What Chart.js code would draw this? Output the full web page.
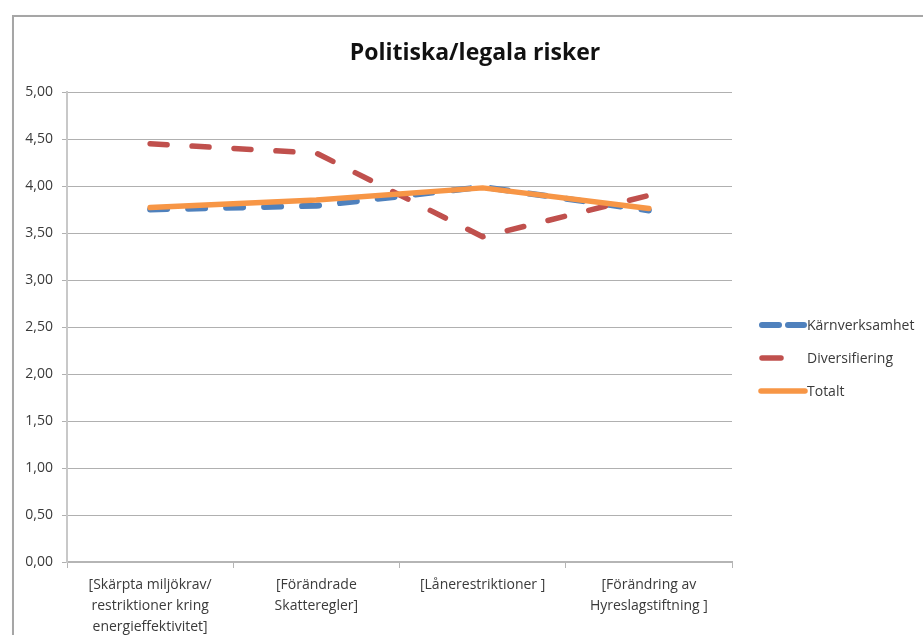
<!DOCTYPE html>
<html>
<head>
<meta charset="utf-8">
<script src="https://cdn.jsdelivr.net/npm/chart.js@4.4.1/dist/chart.umd.min.js"></script>
<style>
  html, body { margin: 0; padding: 0; background: #ffffff; overflow: hidden; }
  #frame {
    position: absolute; left: 12px; top: 15px; width: 1000px; height: 1000px;
    border: 2px solid #a6a6a6; box-shadow: 1px 1px 2px rgba(0,0,0,0.15);
  }
  #wrap { position: absolute; left: 0; top: 0; width: 923px; height: 635px; }
</style>
</head>
<body>
<div id="frame"></div>
<div id="wrap"><canvas id="chart" width="923" height="635"></canvas></div>
<script>
// Categories (multi-line axis labels)
const categories = [
  ['[Skärpta miljökrav/', 'restriktioner kring', 'energieffektivitet]'],
  ['[Förändrade', 'Skatteregler]'],
  ['[Lånerestriktioner ]'],
  ['[Förändring av', 'Hyreslagstiftning ]']
];

// Series values
const karnverksamhet = [3.75, 3.79, 3.99, 3.74];
const diversifiering = [4.45, 4.35, 3.46, 3.90];
const totalt         = [3.77, 3.85, 3.98, 3.76];

const seriesNames = ['Kärnverksamhet', 'Diversifiering', 'Totalt'];
const chartTitle = 'Politiska/legala risker';

const FONT = '"Open Sans", "Liberation Sans", sans-serif';
const TEXT = '#3a3a3a';

// Title drawn centred over the plot + legend block
const titlePlugin = {
  id: 'customTitle',
  afterDraw(chart) {
    const ctx = chart.ctx;
    ctx.save();
    ctx.font = 'bold 23px ' + FONT;
    ctx.fillStyle = '#111';
    ctx.textAlign = 'center';
    ctx.textBaseline = 'middle';
    ctx.fillText(chartTitle, 475, 53);
    ctx.restore();
  }
};

// Legend with the line samples to the right of the plot
const legendPlugin = {
  id: 'sideLegend',
  afterDraw(chart) {
    const ctx = chart.ctx;
    const x0 = 760, rowY = [325, 358, 391];
    ctx.save();
    chart.data.datasets.forEach((ds, i) => {
      const y = rowY[i];
      ctx.strokeStyle = ds.borderColor;
      ctx.lineWidth = ds.borderWidth;
      ctx.lineCap = 'round';
      ctx.beginPath();
      if (i === 0) {
        ctx.moveTo(x0 + 2, y); ctx.lineTo(x0 + 19, y);
        ctx.moveTo(x0 + 28, y); ctx.lineTo(x0 + 44, y);
      } else if (i === 1) {
        ctx.moveTo(x0 + 2, y); ctx.lineTo(x0 + 21, y);
      } else {
        ctx.moveTo(x0 + 1, y); ctx.lineTo(x0 + 45, y);
      }
      ctx.stroke();
      ctx.font = '14px ' + FONT;
      ctx.fillStyle = TEXT;
      ctx.textAlign = 'left';
      ctx.textBaseline = 'middle';
      ctx.fillText(ds.label, 807, y + 1);
    });
    ctx.restore();
  }
};

new Chart(document.getElementById('chart'), {
  type: 'line',
  data: {
    labels: categories,
    datasets: [
      { label: seriesNames[0], data: karnverksamhet, borderColor: '#4F81BD',
        borderWidth: 6, borderDash: [17, 21], borderCapStyle: 'round', order: 3 },
      { label: seriesNames[1], data: diversifiering, borderColor: '#C0504D',
        borderWidth: 5.5, borderDash: [17, 25], borderCapStyle: 'round', order: 2 },
      { label: seriesNames[2], data: totalt, borderColor: '#F79646',
        borderWidth: 5.5, borderCapStyle: 'round', order: 1 }
    ]
  },
  options: {
    responsive: false,
    animation: false,
    events: [],
    layout: { padding: { left: 0, right: 191, top: 92, bottom: 0 } },
    elements: { point: { radius: 0 }, line: { tension: 0, borderJoinStyle: 'round' } },
    plugins: { legend: { display: false }, title: { display: false }, tooltip: { enabled: false } },
    scales: {
      x: {
        offset: true,
        grid: { display: true, drawOnChartArea: false, offset: true, tickLength: 6, color: '#b5b5b5', lineWidth: 1 },
        border: { display: true, color: '#b5b5b5', width: 2 },
        ticks: { color: TEXT, font: { family: FONT, size: 14, lineHeight: 1.5 }, padding: 7, maxRotation: 0, autoSkip: false },
        afterFit(s) { s.height = 73; }
      },
      y: {
        min: 0, max: 5,
        ticks: {
          stepSize: 0.5, color: TEXT, padding: 9,
          font: { family: FONT, size: 14 },
          callback: v => v.toFixed(2).replace('.', ',')
        },
        grid: { color: '#b0b0b0', lineWidth: 1, tickLength: 5 },
        border: { display: true, color: '#c8c8c8', width: 2 },
        afterFit(s) { s.width = 67; }
      }
    }
  },
  plugins: [titlePlugin, legendPlugin]
});
</script>
</body>
</html>
